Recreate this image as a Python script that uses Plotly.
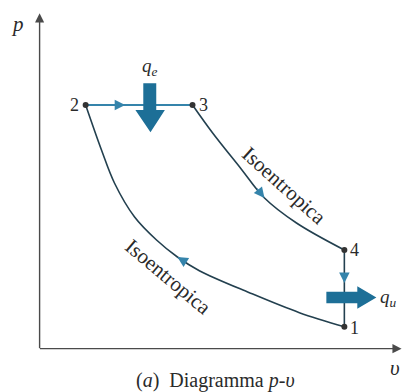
import plotly.graph_objects as go

# ---- data (arbitrary units) ----
state_labels = ["1", "2", "3", "4"]
state_v = [8.47, 1.28, 4.25, 8.47]
state_p = [0.66, 7.31, 7.31, 2.96]

# isentropic expansion 3 -> 4
exp_v = [4.25, 4.81, 5.56, 6.25, 7.14, 8.47]
exp_p = [7.31, 6.47, 5.45, 4.52, 3.77, 2.96]

# isentropic compression 1 -> 2
comp_v = [8.47, 7.22, 5.83, 4.44, 3.83, 3.25, 2.64, 2.08, 1.72, 1.28]
comp_p = [0.66, 1.08, 1.68, 2.34, 2.75, 3.26, 3.95, 4.97, 5.96, 7.31]

curve_label = "Isoentropica"
caption = "(<i>a</i>)  Diagramma <i>p</i>-<i>υ</i>"

FONT = "Liberation Serif"
DARK = "#23404f"
BLUE = "#3584ab"
BIG = "#1d6f97"
TXT = "#2a2a2a"

v1, v2, v3, v4 = state_v
p1, p2, p3, p4 = state_p

fig = go.Figure()

# process lines
fig.add_trace(go.Scatter(x=[v2, v3], y=[p2, p3], mode="lines",
                         line=dict(color=BLUE, width=2), hoverinfo="skip"))
fig.add_trace(go.Scatter(x=exp_v, y=exp_p, mode="lines",
                         line=dict(color=DARK, width=1.6, shape="spline"), hoverinfo="skip"))
fig.add_trace(go.Scatter(x=comp_v, y=comp_p, mode="lines",
                         line=dict(color=DARK, width=1.6, shape="spline"), hoverinfo="skip"))
fig.add_trace(go.Scatter(x=[v4, v1], y=[p4, p1], mode="lines",
                         line=dict(color=DARK, width=1.6), hoverinfo="skip"))

# big heat arrows (filled polygons anchored to the processes)
ce = v2 + 0.6 * (v3 - v2)
qe_x = [ce - 0.18, ce + 0.18, ce + 0.18, ce + 0.42, ce + 0.02, ce - 0.40, ce - 0.18, ce - 0.18]
qe_y = [p2 + 0.65, p2 + 0.65, p2 - 0.15, p2 - 0.15, p2 - 0.82, p2 - 0.15, p2 - 0.15, p2 + 0.65]
fig.add_trace(go.Scatter(x=qe_x, y=qe_y, mode="lines", fill="toself", fillcolor=BIG,
                         line=dict(color=BIG, width=0), hoverinfo="skip"))
cu = p4 + 0.62 * (p1 - p4)
qu_x = [v1 - 0.50, v1 + 0.36, v1 + 0.36, v1 + 0.89, v1 + 0.36, v1 + 0.36, v1 - 0.50, v1 - 0.50]
qu_y = [cu + 0.17, cu + 0.17, cu + 0.34, cu, cu - 0.34, cu - 0.17, cu - 0.17, cu + 0.17]
fig.add_trace(go.Scatter(x=qu_x, y=qu_y, mode="lines", fill="toself", fillcolor=BIG,
                         line=dict(color=BIG, width=0), hoverinfo="skip"))

# state points
fig.add_trace(go.Scatter(x=state_v, y=state_p, mode="markers",
                         marker=dict(color="#333333", size=6), hoverinfo="skip"))

ann = []
# axes with arrowheads
ann.append(dict(x=10.06, y=0, ax=-0.03, ay=0, xref="x", yref="y", axref="x", ayref="y",
                text="", showarrow=True, arrowhead=2, arrowsize=1.3, arrowwidth=1.4,
                arrowcolor="#4a4a4a", standoff=0))
ann.append(dict(x=0, y=10.06, ax=0, ay=-0.03, xref="x", yref="y", axref="x", ayref="y",
                text="", showarrow=True, arrowhead=2, arrowsize=1.3, arrowwidth=1.4,
                arrowcolor="#4a4a4a", standoff=0))


def flow_arrow(xt, yt, xb, yb):
    ann.append(dict(x=xt, y=yt, ax=xt + 0.35 * (xb - xt), ay=yt + 0.35 * (yb - yt),
                    xref="x", yref="y", axref="x", ayref="y", text="", showarrow=True,
                    arrowhead=2, arrowsize=1.5, arrowwidth=1.4, arrowcolor=BLUE, standoff=0))


# direction arrows on each process
t = 0.37
flow_arrow(v2 + t * (v3 - v2), p2, v2, p2)
flow_arrow(exp_v[3], exp_p[3], exp_v[2], exp_p[2])
t = 0.43
flow_arrow(v4, p4 + t * (p1 - p4), v4, p4)
flow_arrow(comp_v[4], comp_p[4], comp_v[3], comp_p[3])

# state labels
num_font = dict(family=FONT, size=18, color=TXT)
ann.append(dict(x=v2, y=p2, text=state_labels[1], showarrow=False, xanchor="right",
                xshift=-5, font=num_font))
ann.append(dict(x=v3, y=p3, text=state_labels[2], showarrow=False, xanchor="left",
                xshift=4, font=num_font))
ann.append(dict(x=v4, y=p4, text=state_labels[3], showarrow=False, xanchor="left",
                xshift=4, font=num_font))
ann.append(dict(x=v1, y=p1, text=state_labels[0], showarrow=False, xanchor="left",
                xshift=4, yshift=-1, font=num_font))

# heat labels
ann.append(dict(x=ce, y=p2, text="<i>q</i><sub><i>e</i></sub>", showarrow=False,
                yshift=38, xshift=0, font=dict(family=FONT, size=19, color=TXT)))
ann.append(dict(x=v1, y=cu, text="<i>q</i><sub><i>u</i></sub>", showarrow=False,
                xanchor="left", xshift=34, yshift=0, font=dict(family=FONT, size=19, color=TXT)))

# curve labels
lab_font = dict(family=FONT, size=21, color=TXT)
ann.append(dict(x=exp_v[3], y=exp_p[3], text=curve_label, showarrow=False,
                textangle=42, xshift=20, yshift=12, font=lab_font))
ann.append(dict(x=comp_v[4], y=comp_p[4], text=curve_label, showarrow=False,
                textangle=40, xshift=-9, yshift=-20, font=lab_font))

# axis titles and caption
ann.append(dict(x=0, y=10, text="<i>p</i>", showarrow=False, xanchor="right",
                xshift=-14, yshift=-9, font=dict(family=FONT, size=21, color=TXT)))
ann.append(dict(x=10, y=0, text="<i>υ</i>", showarrow=False, xshift=-4, yshift=-19,
                font=dict(family=FONT, size=21, color=TXT)))
ann.append(dict(x=0.49, y=-0.045, xref="paper", yref="paper", text=caption,
                showarrow=False, yanchor="top", font=dict(family=FONT, size=20, color=TXT)))

fig.update_layout(
    width=408, height=392,
    margin=dict(l=36, r=5, t=12, b=40),
    paper_bgcolor="white", plot_bgcolor="white",
    showlegend=False,
    xaxis=dict(range=[-0.1, 10.1], visible=False, fixedrange=True),
    yaxis=dict(range=[-0.1, 10.1], visible=False, fixedrange=True),
    annotations=ann,
)

fig.write_html("out.html", config={"displayModeBar": False},
               post_script="document.body.style.margin='0px';")
